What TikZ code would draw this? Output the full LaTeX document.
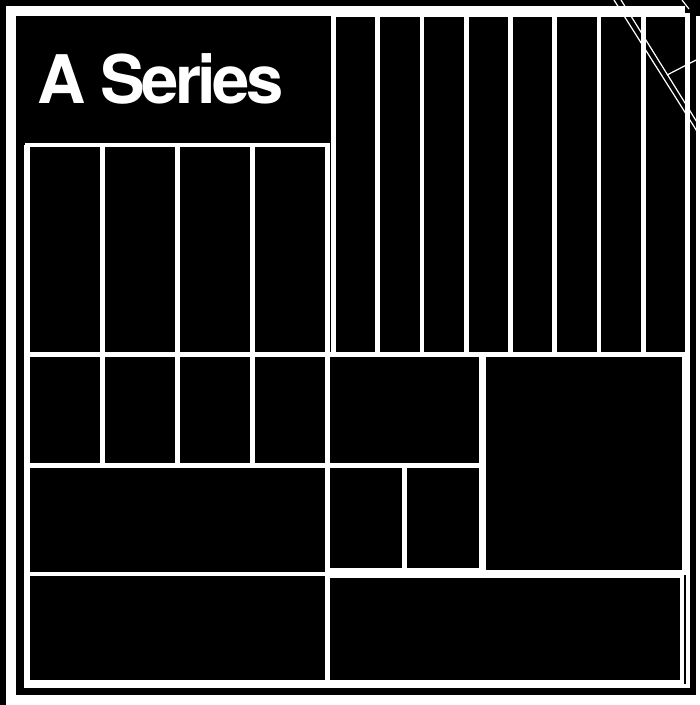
\documentclass[tikz,border=0pt]{standalone}
\usepackage{fontspec}
\newfontfamily\titlefont{TeX Gyre Heros}[LetterSpace=-5.5]
\usepackage{tikz}

\begin{document}
\begin{tikzpicture}[x=1pt,y=-1pt,
  cell/.style={draw=white,line width=4.6pt},
  crease/.style={draw=white,line width=1.2pt},
  title/.style={font=\titlefont\bfseries\fontsize{67}{70}\selectfont,text=white,anchor=base west,inner sep=0pt}]
 \useasboundingbox (0,0) rectangle (700,705);
 \fill[black] (0,0) rectangle (700,705);
 \fill[white] (6,6) rectangle (700,705);
 \fill[black] (15.5,15.5) rectangle (695.5,695);
 \fill[black] (685,0) rectangle (700,15.5);
 \node[title] (title) at (37,103) {A Series};
 \draw[cell] (26,145) -- (26,686) -- (688,686) -- (688,15);
 \foreach \i in {0,...,7}
   \draw[cell] ({333.5+44.25*\i},15) rectangle ++(44.25,339.5);
 \foreach \i in {0,...,3} {
   \draw[cell] ({27.5+75*\i},145) rectangle ++(75,209.5);
   \draw[cell] ({27.5+75*\i},354.5) rectangle ++(75,111);
 }
 \draw[cell] (27.5,465.5) rectangle (327.5,574);
 \draw[cell] (27.5,574) rectangle (327.5,682.5);
 \draw[cell] (327.5,354.5) rectangle (481,465.5);
 \draw[cell] (327.5,465.5) rectangle (404.5,570.5);
 \draw[cell] (404.5,465.5) rectangle (481,570.5);
 \draw[cell] (484,355) rectangle (684,572.5);
 \draw[cell] (327.5,575.5) rectangle (682,682);
 \draw[crease] (614,0) -- (700,136);
 \draw[crease] (621,0) -- (700,127);
 \draw[crease] (667,75) -- (700,58);
 \draw[crease] (682,0) -- (689,9);
\end{tikzpicture}
\end{document}
